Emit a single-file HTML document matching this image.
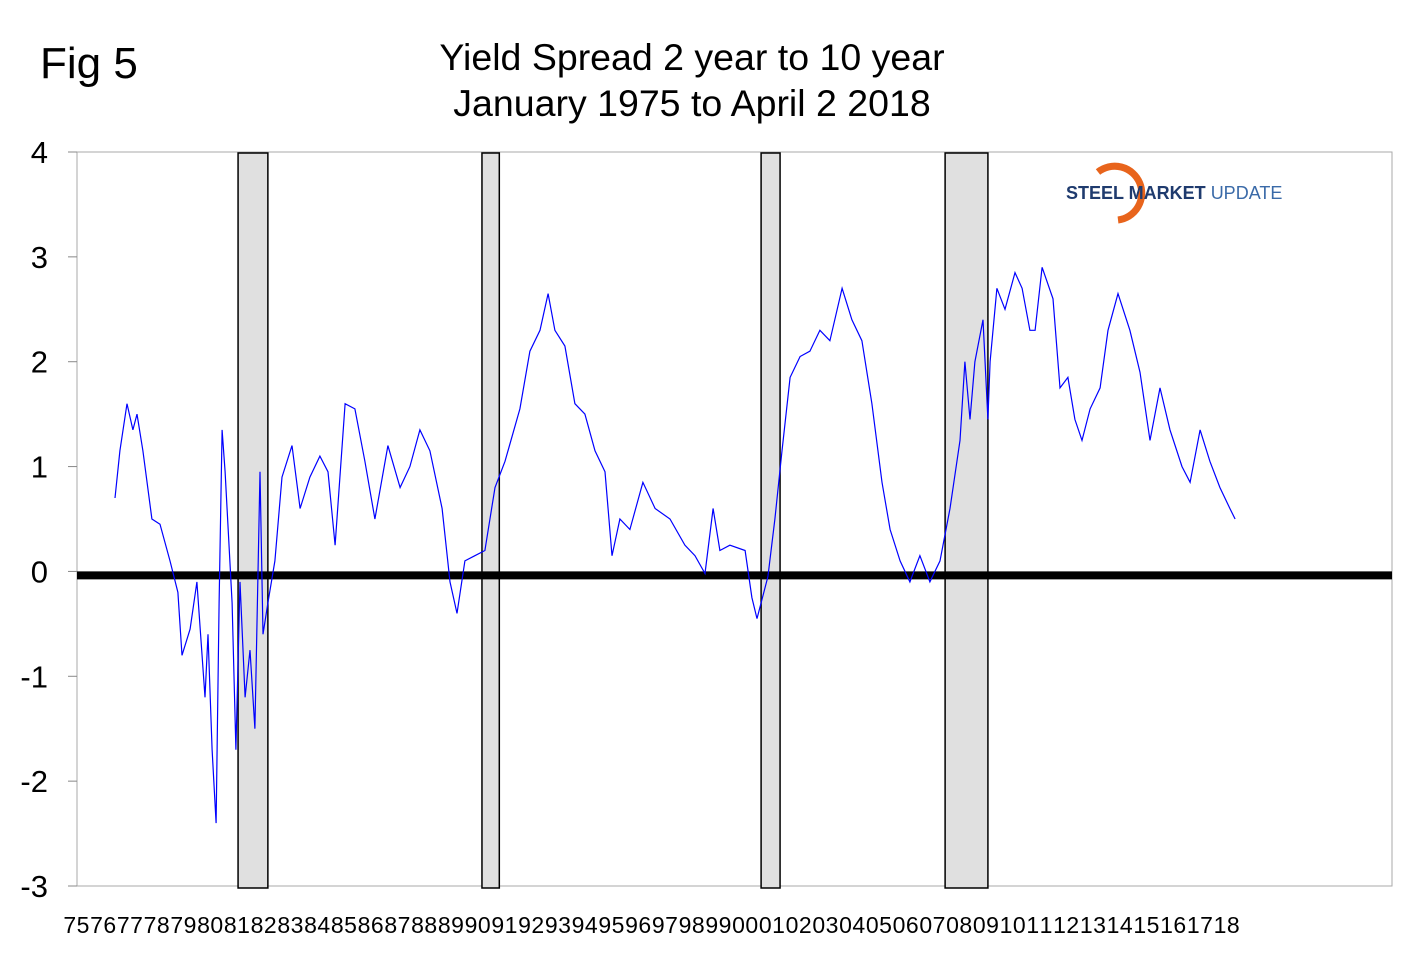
<!DOCTYPE html>
<html><head><meta charset="utf-8"><style>
body{margin:0;background:#fff;font-family:"Liberation Sans",Arial,sans-serif;}
svg text{font-family:"Liberation Sans",Arial,sans-serif;}
</style></head><body>
<svg id="chart" width="1420" height="973" viewBox="0 0 1420 973">
<text x="40" y="78" font-size="44">Fig 5</text>
<text x="692" y="70" font-size="37.5" text-anchor="middle">Yield Spread 2 year to 10 year</text>
<text x="692" y="116" font-size="37.5" text-anchor="middle">January 1975 to April 2 2018</text>
<rect x="77" y="152" width="1315" height="734" fill="#fff" stroke="#aaa" stroke-width="1"/>
<g id="rec"></g>
<g id="yax"></g>
<g id="xax"></g>
<line id="zero" stroke="#000" stroke-width="8"/>
<path id="line" fill="none" stroke="#0000ff" stroke-width="1.2"/>
<g>
<path d="M1098 172 A27 27 0 1 1 1118 220" fill="none" stroke="#e8641c" stroke-width="7"/>
<text x="1066" y="199" font-size="18" font-weight="bold" fill="#1f3b6e">STEEL MARKET <tspan font-weight="normal" fill="#3a6aa8">UPDATE</tspan></text>
</g>
</svg>
<script>
const years=[1976.92,1977.10,1977.36,1977.58,1977.73,1977.95,1978.28,1978.58,1978.95,1979.24,1979.39,1979.69,1979.94,1980.24,1980.35,1980.50,1980.65,1980.76,1980.87,1980.98,1981.24,1981.38,1981.53,1981.72,1981.90,1982.08,1982.27,1982.38,1982.56,1982.82,1983.08,1983.45,1983.75,1984.11,1984.48,1984.78,1985.04,1985.41,1985.77,1986.14,1986.51,1986.99,1987.44,1987.80,1988.17,1988.54,1988.99,1989.28,1989.54,1989.83,1990.20,1990.57,1990.94,1991.31,1991.86,1992.23,1992.60,1992.90,1993.15,1993.52,1993.89,1994.26,1994.63,1995.00,1995.26,1995.55,1995.92,1996.40,1996.85,1997.40,1997.95,1998.32,1998.69,1998.99,1999.24,1999.61,2000.17,2000.42,2000.61,2001.01,2001.27,2001.53,2001.83,2002.20,2002.56,2002.93,2003.30,2003.75,2004.11,2004.48,2004.85,2005.22,2005.52,2005.89,2006.25,2006.62,2006.99,2007.36,2007.73,2008.10,2008.28,2008.47,2008.65,2008.95,2009.13,2009.21,2009.46,2009.76,2010.13,2010.39,2010.68,2010.87,2011.13,2011.53,2011.79,2012.08,2012.34,2012.60,2012.90,2013.27,2013.56,2013.93,2014.37,2014.74,2015.11,2015.48,2015.85,2016.29,2016.59,2016.96,2017.32,2017.69,2018.06,2018.25];
const spread=[0.7,1.15,1.6,1.35,1.5,1.15,0.5,0.45,0.1,-0.2,-0.8,-0.55,-0.1,-1.2,-0.6,-1.7,-2.4,-0.3,1.35,0.95,-0.3,-1.7,-0.1,-1.2,-0.75,-1.5,0.95,-0.6,-0.3,0.1,0.9,1.2,0.6,0.9,1.1,0.95,0.25,1.6,1.55,1.05,0.5,1.2,0.8,1.0,1.35,1.15,0.6,-0.1,-0.4,0.1,0.15,0.2,0.8,1.05,1.55,2.1,2.3,2.65,2.3,2.15,1.6,1.5,1.15,0.95,0.15,0.5,0.4,0.85,0.6,0.5,0.25,0.15,-0.02,0.6,0.2,0.25,0.2,-0.25,-0.45,-0.05,0.5,1.15,1.85,2.05,2.1,2.3,2.2,2.7,2.4,2.2,1.6,0.85,0.4,0.1,-0.1,0.15,-0.1,0.1,0.6,1.25,2.0,1.45,2.0,2.4,1.45,2.0,2.7,2.5,2.85,2.7,2.3,2.3,2.9,2.6,1.75,1.85,1.45,1.25,1.55,1.75,2.3,2.65,2.3,1.9,1.25,1.75,1.35,1.0,0.85,1.35,1.05,0.8,0.6,0.5];
const recStart=[1981.46,1990.46,2000.76,2007.55];
const recEnd=[1982.56,1991.10,2001.46,2009.13];
const yTicks=[4,3,2,1,0,-1,-2,-3];
const xLabels=["75","76","77","78","79","80","81","82","83","84","85","86","87","88","89","90","91","92","93","94","95","96","97","98","99","00","01","02","03","04","05","06","07","08","09","10","11","12","13","14","15","16","17","18"];
const NS="http://www.w3.org/2000/svg";
const X=t=>63+(t-1975)*27.1;
const Y=v=>886-(v+3)*(734/7);
const rec=document.getElementById('rec');
recStart.forEach((s,i)=>{const r=document.createElementNS(NS,'rect');
r.setAttribute('x',X(s));r.setAttribute('y',153);r.setAttribute('width',X(recEnd[i])-X(s));r.setAttribute('height',735);
r.setAttribute('fill','#e0e0e0');r.setAttribute('stroke','#000');r.setAttribute('stroke-width','1.5');


rec.appendChild(r);});
const yax=document.getElementById('yax');
yTicks.forEach(v=>{const t=document.createElementNS(NS,'text');
t.setAttribute('x',48);t.setAttribute('y',Y(v)+11);t.setAttribute('font-size','31');t.setAttribute('text-anchor','end');t.textContent=v;


yax.appendChild(t);
const l=document.createElementNS(NS,'line');l.setAttribute('x1',68);l.setAttribute('x2',77);l.setAttribute('y1',Y(v));l.setAttribute('y2',Y(v));l.setAttribute('stroke','#888');


yax.appendChild(l);});
const xax=document.getElementById('xax');
const LX=i=>63+i*26.75+13.4;
xLabels.forEach((s,i)=>{const t=document.createElementNS(NS,'text');
t.setAttribute('x',LX(i));t.setAttribute('y',933);t.setAttribute('font-size','23');t.setAttribute('text-anchor','middle');t.setAttribute('textLength','26');t.textContent=s;


xax.appendChild(t);});
const z=document.getElementById('zero');z.setAttribute('x1',77);z.setAttribute('x2',1392);z.setAttribute('y1',Y(0)+4);z.setAttribute('y2',Y(0)+4);
document.getElementById('line').setAttribute('d',years.map((t,i)=>(i?'L':'M')+X(t).toFixed(1)+' '+Y(spread[i]).toFixed(1)).join(''));
</script>
</body></html>
